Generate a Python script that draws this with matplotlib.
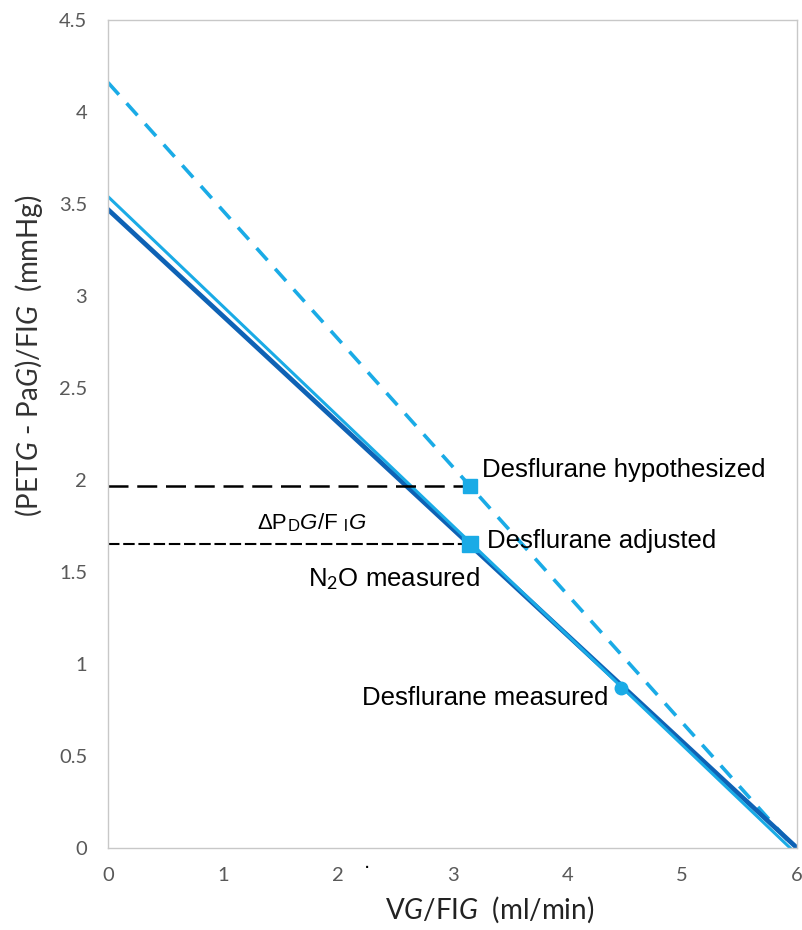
import matplotlib
matplotlib.use("Agg")
import matplotlib.pyplot as plt

# ---- data ----
x_line = [0, 6]
n2o_measured_y = [3.47, 0.0]          # dark blue solid
x_des = [0, 5.94]
des_adjusted_y = [3.54, 0.0]          # light blue solid
x_hyp = [0, 5.98]
des_hyp_y = [4.16, 0.0]               # light blue dashed

pt_hyp = (3.15, 1.97)
pt_adj = (3.15, 1.65)
pt_meas = (4.47, 0.87)

ref_x = [0, 3.15]
ref_hyp_y = [1.97, 1.97]
ref_adj_y = [1.65, 1.65]

xticks = [0, 1, 2, 3, 4, 5, 6]
yticks = [0, 0.5, 1, 1.5, 2, 2.5, 3, 3.5, 4, 4.5]
yticklabels = ["0", "0.5", "1", "1.5", "2", "2.5", "3", "3.5", "4", "4.5"]

DARK = "#0E62B5"
LIGHT = "#1AABE6"
GREY = "#595959"

plt.rcParams['mathtext.fontset'] = 'custom'
plt.rcParams['mathtext.rm'] = 'Lato'
plt.rcParams['mathtext.it'] = 'Lato:italic'

fig = plt.figure(figsize=(8.02, 9.30), dpi=100)
ax = fig.add_axes([0.1347, 0.0882, 0.9938 - 0.1347, 0.9785 - 0.0882])

ax.plot(x_hyp, des_hyp_y, color=LIGHT, lw=2.6, dashes=(4.5, 3.2), solid_capstyle='butt')
ax.plot(x_line, n2o_measured_y, color=DARK, lw=3.4)
ax.plot(x_des, des_adjusted_y, color=LIGHT, lw=2.2)

ax.plot(ref_x, ref_hyp_y, color='black', lw=1.8, dashes=(8, 3.5))
ax.plot(ref_x, ref_adj_y, color='black', lw=1.5, dashes=(5.5, 1.8))

ax.plot(*pt_hyp, marker='s', ms=10, color=LIGHT, mec=LIGHT, zorder=5)
ax.plot(*pt_adj, marker='s', ms=11, color=LIGHT, mec=LIGHT, zorder=5)
ax.plot(*pt_meas, marker='o', ms=9, color=LIGHT, mec=LIGHT, zorder=5)

tfont = dict(family='Liberation Sans', color='black')
ax.text(3.258, 2.054, "Desflurane hypothesized", fontsize=18.5, va='center', ha='left', **tfont)
ax.text(3.30, 1.668, "Desflurane adjusted", fontsize=18.5, va='center', ha='left', **tfont)
ax.text(1.742, 1.467, "N$_2$O measured", fontsize=18.5, va='center', ha='left', **tfont)
ax.text(2.21, 0.815, "Desflurane measured", fontsize=18.5, va='center', ha='left', **tfont)

# ΔPDG/FIG built from pieces
t = ax.text(1.30, 1.766, "ΔP", fontsize=16, va='center', ha='left', **tfont)
pieces = [("D", 12, 'normal'), ("G", 16, 'italic'), ("/F", 16, 'normal'), (" I", 12, 'normal'), ("G", 16, 'italic')]
prev = t
for s, fs, st in pieces:
    prev = ax.annotate(s, xy=(1, 0), xycoords=prev, xytext=(0.5, 0), textcoords='offset points',
                       fontsize=fs, style=st, va='bottom', ha='left', family='Liberation Sans')

ax.text(2.256, -0.03, ".", fontsize=14, ha='center', va='top', color='black', clip_on=False)

ax.set_xlim(0, 6)
ax.set_ylim(0, 4.5)
ax.set_xticks(xticks)
ax.set_yticks(yticks)
ax.set_yticklabels(yticklabels)
ax.tick_params(length=0, labelsize=14.5, labelcolor=GREY)
ax.tick_params(axis='y', pad=15)
ax.tick_params(axis='x', pad=14)
for lab in ax.get_xticklabels() + ax.get_yticklabels():
    lab.set_family('Lato')
for sp in ax.spines.values():
    sp.set_color('#C8C8C8')
    sp.set_linewidth(1.0)

fig.text(0.036, 0.618, r"(PET$\mathit{G}$ - Pa$\mathit{G}$)/FI$\mathit{G}$  (mmHg)", rotation=90,
         fontsize=20, family='Lato', color='#333333', ha='center', va='center')
fig.text(0.61, 0.022, r"V$\mathit{G}$/FI$\mathit{G}$  (ml/min)", fontsize=20, family='Lato',
         color='#222222', ha='center', va='center')

fig.savefig("out.png", dpi=100)
